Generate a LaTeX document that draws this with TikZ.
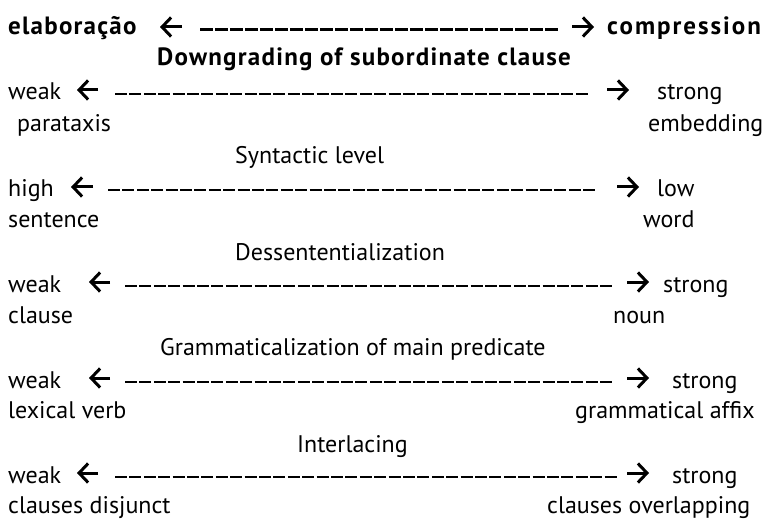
\documentclass[tikz,border=0pt]{standalone}
\usepackage{fontspec}
\setmainfont{PT Sans}
\usetikzlibrary{arrows.meta}

\begin{document}
\begin{tikzpicture}[x=1pt, y=-1pt, font=\fontsize{24}{28}\selectfont,
	word/.style={anchor=base west, inner sep=0pt},
	head/.style={word, font=\fontsize{25}{28}\selectfont\bfseries\addfontfeature{LetterSpace=5}},
	arr/.style={-{Straight Barb[length=9pt, width=19pt]}, line width=3pt},
	rule/.style={line width=2pt, dash pattern=on 12pt off 2.4pt},
	boldrule/.style={line width=3pt, dash pattern=on 13pt off 2pt}]
	\useasboundingbox (0,0) rectangle (770,521);
	% compression scale
	\node[head] (elab) at (8,35) {elaboração};
	\node[head, font=\fontsize{25}{28}\selectfont\bfseries\addfontfeature{LetterSpace=8}] (comp) at (607,35) {compression};
	\path (182,27) coordinate (elabA) (160,27) coordinate (elabB)
	(572,27) coordinate (compB) (594,27) coordinate (compA);
	\draw[arr] (elabA) -- (elabB);
	\draw[arr] (compB) -- (compA);
	\draw[boldrule] (200,30) coordinate (elabR) -- (558,30) coordinate (compR);
	\node[head] (downg) at (157,66) {Downgrading of subordinate clause};
	% downgrading
	\node[word] (w1) at (8,100) {weak};
	\node[word] (s1) at (657,100) {strong};
	\path (98,90) coordinate (w1A) (77,90) coordinate (w1B)
	(607,90) coordinate (s1B) (629,90) coordinate (s1A);
	\draw[arr] (w1A) -- (w1B);
	\draw[arr] (s1B) -- (s1A);
	\draw[rule] (115,94) -- (587.8,94);
	\node[word] (para) at (17,132) {parataxis};
	\node[word] (emb) at (648,132) {embedding};
	% syntactic level
	\node[word] (synt) at (235,164) {Syntactic level};
	\node[word] (w2) at (8,197) {high};
	\node[word] (s2) at (657,197) {low};
	\path (93,187) coordinate (w2A) (71,187) coordinate (w2B)
	(617,187) coordinate (s2B) (639,187) coordinate (s2A);
	\draw[arr] (w2A) -- (w2B);
	\draw[arr] (s2B) -- (s2A);
	\draw[rule] (108,190.5) -- (595.2,190.5);
	\node[word] (sent) at (8,228) {sentence};
	\node[word] (wrd) at (643,228) {word};
	% dessententialization
	\node[word] (dess) at (235,260) {Dessententialization};
	\node[word] (w3) at (8,292) {weak};
	\node[word] (s3) at (663,292) {strong};
	\path (110,282) coordinate (w3A) (89,282) coordinate (w3B)
	(627,282) coordinate (s3B) (649,282) coordinate (s3A);
	\draw[arr] (w3A) -- (w3B);
	\draw[arr] (s3B) -- (s3A);
	\draw[rule] (125,285.5) -- (612.2,285.5);
	\node[word] (cla) at (8,323) {clause};
	\node[word] (noun) at (613,323) {noun};
	% main predicate
	\node[word] (gram) at (160,355) {Grammaticalization of main predicate};
	\node[word] (w4) at (8,388) {weak};
	\node[word] (s4) at (672,388) {strong};
	\path (110,378) coordinate (w4A) (89,378) coordinate (w4B)
	(627,378) coordinate (s4B) (649,378) coordinate (s4A);
	\draw[arr] (w4A) -- (w4B);
	\draw[arr] (s4B) -- (s4A);
	\draw[rule] (125,381.5) -- (612.2,381.5);
	\node[word] (lex) at (8,418) {lexical verb};
	\node[word] (aff) at (575,418) {grammatical affix};
	% interlacing
	\node[word] (intl) at (297,452) {Interlacing};
	\node[word] (w5) at (8,483) {weak};
	\node[word] (s5) at (672,483) {strong};
	\path (98,473) coordinate (w5A) (77,473) coordinate (w5B)
	(627,473) coordinate (s5B) (649,473) coordinate (s5A);
	\draw[arr] (w5A) -- (w5B);
	\draw[arr] (s5B) -- (s5A);
	\draw[rule] (115,476.5) -- (616.6,476.5);
	\node[word] (disj) at (8,513) {clauses disjunct};
	\node[word] (ovl) at (547,513) {clauses overlapping};
\end{tikzpicture}
\end{document}
